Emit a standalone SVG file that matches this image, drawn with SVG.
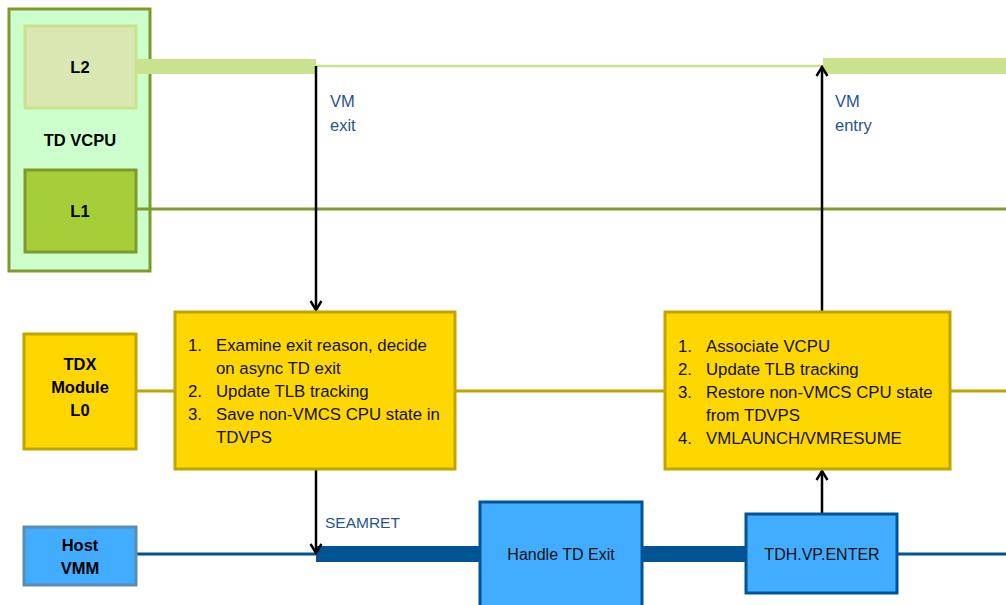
<svg xmlns="http://www.w3.org/2000/svg" width="1006" height="605" viewBox="0 0 1006 605">
<defs>
<style>
text{font-family:"Liberation Sans",Arial,sans-serif;}
.lbl{font-size:16.5px;font-weight:bold;fill:#000;text-anchor:middle;}
.body{font-size:16.8px;fill:#111;}
.box{font-size:16px;fill:#111;text-anchor:middle;}
.blue{font-size:16.5px;fill:#1f5591;}
.yel{fill:#ffd700;stroke:#c2a400;stroke-width:3;}
.hb{fill:#42adff;stroke:#005494;stroke-width:3;}
.arr{stroke:#000;stroke-width:2.5;fill:none;}
</style>
<marker id="ah" viewBox="0 0 14 14" refX="12" refY="7" markerWidth="14" markerHeight="14" markerUnits="userSpaceOnUse" orient="auto">
<path d="M3,1.5 L12,7 L3,12.5" fill="none" stroke="#000" stroke-width="2.4"/>
</marker>
</defs>
<rect width="1006" height="605" fill="#fff"/>
<g id="td-vcpu">
<rect x="9" y="9" width="141" height="262" fill="#ccffcc" stroke="#7f9a2a" stroke-width="3"/>
<text class="lbl" x="80" y="146">TD VCPU</text>
</g>
<g id="connectors">
<rect x="136" y="59" width="180" height="15" fill="#c9e28e"/>
<line x1="316" y1="66" x2="823" y2="66" stroke="#c9e28e" stroke-width="2.5"/>
<rect x="823" y="58" width="183" height="16" fill="#c9e28e"/>
<line x1="136" y1="209" x2="1006" y2="209" stroke="#7f9a2a" stroke-width="3"/>
<line x1="136" y1="391" x2="175" y2="391" stroke="#c2a400" stroke-width="3"/>
<line x1="455" y1="391" x2="665" y2="391" stroke="#c2a400" stroke-width="3"/>
<line x1="950" y1="391" x2="1006" y2="391" stroke="#c2a400" stroke-width="3"/>
<line x1="136" y1="554" x2="316" y2="554" stroke="#005494" stroke-width="3"/>
<rect x="316" y="546" width="164" height="16" fill="#005494"/>
<rect x="642" y="546" width="104" height="16" fill="#005494"/>
<line x1="897" y1="554" x2="1006" y2="554" stroke="#005494" stroke-width="3"/>
<line class="arr" x1="316" y1="66" x2="316" y2="310" marker-end="url(#ah)"/>
<line class="arr" x1="822" y1="311" x2="822" y2="67" marker-end="url(#ah)"/>
<line class="arr" x1="316" y1="469" x2="316" y2="553" marker-end="url(#ah)"/>
<line class="arr" x1="822" y1="513" x2="822" y2="471" marker-end="url(#ah)"/>
<text class="blue" x="330" y="107">VM</text>
<text class="blue" x="330" y="131">exit</text>
<text class="blue" x="835" y="107">VM</text>
<text class="blue" x="835" y="131">entry</text>
<text class="blue" x="325" y="528" style="font-size:15.5px">SEAMRET</text>
</g>
<g id="l2">
<rect x="25" y="26" width="111" height="82" fill="#d9e7b2" stroke="#c9e28e" stroke-width="3"/>
<text class="lbl" x="80" y="73">L2</text>
</g>
<g id="l1">
<rect x="25" y="170" width="111" height="82" fill="#a6ce39" stroke="#7f9a2a" stroke-width="3"/>
<text class="lbl" x="80" y="217">L1</text>
</g>
<g id="tdx-module">
<rect class="yel" x="24" y="334" width="112" height="115"/>
<text class="lbl" x="80" y="370">TDX</text>
<text class="lbl" x="80" y="393">Module</text>
<text class="lbl" x="80" y="416">L0</text>
</g>
<g id="host-vmm">
<rect x="24" y="527" width="112" height="58" fill="#42adff" stroke="#5b8db0" stroke-width="3"/>
<text class="lbl" x="80" y="551">Host</text>
<text class="lbl" x="80" y="574">VMM</text>
</g>
<g id="exit-box">
<rect class="yel" x="175" y="312" width="280" height="157"/>
<text class="body" x="188" y="351">1.</text>
<text class="body" x="216" y="351">Examine exit reason, decide</text>
<text class="body" x="216" y="374">on async TD exit</text>
<text class="body" x="188" y="397">2.</text>
<text class="body" x="216" y="397">Update TLB tracking</text>
<text class="body" x="188" y="420">3.</text>
<text class="body" x="216" y="420">Save non-VMCS CPU state in</text>
<text class="body" x="216" y="443">TDVPS</text>
</g>
<g id="entry-box">
<rect class="yel" x="665" y="312" width="285" height="157"/>
<text class="body" x="678" y="352">1.</text>
<text class="body" x="706" y="352">Associate VCPU</text>
<text class="body" x="678" y="375">2.</text>
<text class="body" x="706" y="375">Update TLB tracking</text>
<text class="body" x="678" y="398">3.</text>
<text class="body" x="706" y="398">Restore non-VMCS CPU state</text>
<text class="body" x="706" y="421">from TDVPS</text>
<text class="body" x="678" y="444">4.</text>
<text class="body" x="706" y="444">VMLAUNCH/VMRESUME</text>
</g>
<g id="handle-td-exit">
<rect class="hb" x="480" y="502" width="162" height="110"/>
<text class="box" x="561" y="560">Handle TD Exit</text>
</g>
<g id="tdh-vp-enter">
<rect class="hb" x="746" y="514" width="151" height="79"/>
<text class="box" x="822" y="560">TDH.VP.ENTER</text>
</g>
</svg>
